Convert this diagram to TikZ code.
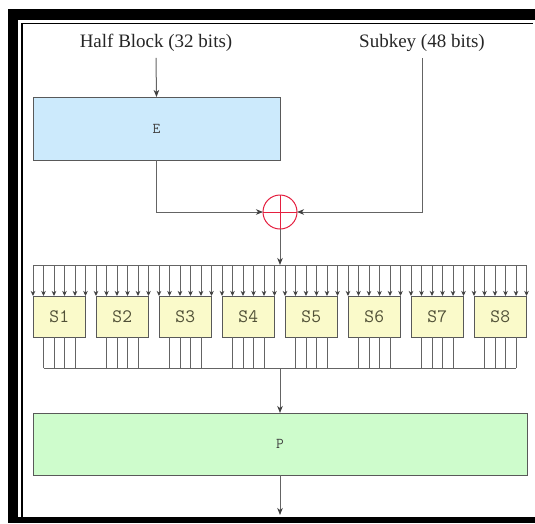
\documentclass[tikz,border=0pt]{standalone}
\usepackage{fontspec}
\setmainfont{Liberation Serif}
\usepackage{tikz}
\usetikzlibrary{arrows.meta, calc, positioning}

\definecolor{eblue}{RGB}{204,234,252}
\definecolor{syellow}{RGB}{250,250,202}
\definecolor{pgreen}{RGB}{206,252,204}
\definecolor{xorred}{RGB}{228,32,64}
\definecolor{wiregray}{RGB}{100,100,100}
\definecolor{stext}{RGB}{80,80,55}

\begin{document}
\begin{tikzpicture}[x=1pt, y=-1pt,
        lbl/.style={font=\fontsize{19}{22}\selectfont, text=black!85, inner sep=6pt},
        ebox/.style={rectangle, draw=black!65, line width=1pt, fill=eblue, outer sep=0pt, minimum width=247pt, minimum height=63pt, font=\ttfamily\fontsize{15}{17}\selectfont, text=black!75},
        pbox/.style={rectangle, draw=black!65, line width=1pt, fill=pgreen, outer sep=0pt, minimum width=494pt, minimum height=62pt, font=\ttfamily\fontsize{15}{17}\selectfont, text=black!75},
        sbox/.style={rectangle, draw=black!65, line width=1pt, fill=syellow, outer sep=0pt, minimum width=52.5pt, minimum height=41pt, font=\ttfamily\fontsize{19}{21}\selectfont, text=stext},
        xor/.style={circle, draw=xorred, line width=1pt, minimum size=34pt, inner sep=0pt, outer sep=0pt,
            path picture={\draw[xorred, line width=1pt] (path picture bounding box.north) -- (path picture bounding box.south)
                (path picture bounding box.west) -- (path picture bounding box.east);}},
        wire/.style={draw=wiregray, line width=1pt},
        flow/.style={wire, -{Stealth[length=7pt, width=5.5pt, inset=2pt, color=black!75]}},
        sflow/.style={wire, -{Stealth[length=5pt, width=4.5pt, inset=1.5pt, color=black!75]}}
    ]
        \useasboundingbox (0,0) rectangle (535,523);

        % frame
        \fill[black] (8,9) rectangle (535,19.5);
        \fill[black] (8,9) rectangle (18,523);
        \fill[black] (8,517) rectangle (535,523);
        \draw[black, line width=1.5pt] (22,517) -- (22,23.5) -- (533,23.5);

        \node[lbl] (half) at (156,43) {Half Block (32 bits)};
        \node[lbl] (subkey) at (422,43) {Subkey (48 bits)};
        \node[ebox] (E) at (156.5,128.5) {E};
        \node[xor] (xor) at (280,212) {};

        \draw[flow] (half.south) -- (E.north);
        \draw[flow] (E.south) |- (xor.west);
        \draw[flow] (subkey.south) |- (xor.east);

        % S-boxes
        \foreach \i in {1,...,8} {
            \node[sbox] (s\i) at ({59.25+63*(\i-1)},316.5) {S\i};
            \foreach \k in {0,...,5}
                \draw[sflow] ([xshift={10.5*\k}]s\i.north west) ++(0,-31) -- ([xshift={10.5*\k}]s\i.north west);
            \foreach \k in {1,...,4}
                \draw[wire] ([xshift={10.5*\k}]s\i.south west) -- ++(0,31);
        }
        \coordinate (busin) at (280,265);
        \coordinate (busout) at (280,368);
        \draw[wire] ($(s1.north west)+(0,-31)$) -- ($(s8.north east)+(0,-31)$);
        \draw[wire] ($(s1.south west)+(10.5,31)$) -- ($(s8.south east)+(-10.5,31)$);
        \draw[flow] (xor.south) -- (busin);

        \node[pbox] (P) at (280,444) {P};
        \coordinate (out) at (280,515);
        \draw[flow] (busout) -- (P.north);
        \draw[flow] (P.south) -- (out);
    \end{tikzpicture}
\end{document}
